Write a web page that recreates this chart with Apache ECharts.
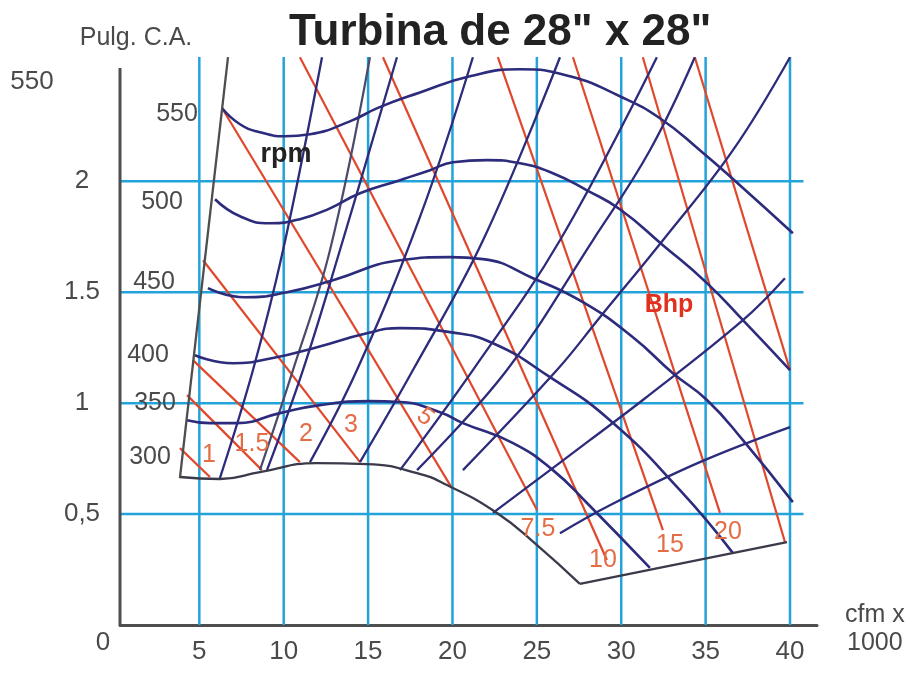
<!DOCTYPE html>
<html><head><meta charset="utf-8">
<script src="https://cdn.jsdelivr.net/npm/echarts@6/dist/echarts.min.js"></script>
<style>html,body{margin:0;padding:0;background:#fff}#c{width:914px;height:674px}</style>
</head><body><div id="c"></div>
<script>
// ---- axes ----
const xTicks = [5, 10, 15, 20, 25, 30, 35, 40];
const yTicks = [0.5, 1, 1.5, 2];
const yTickLabels = ['0,5', '1', '1.5', '2'];

// ---- rpm curves: [cfm x 1000, Pulg. C.A.] ----
const rpm550 = [[6.34,2.33],[7.41,2.257],[8.59,2.221],[10.07,2.203],[11.56,2.212],[13.92,2.27],[15.65,2.333],[18.07,2.40],[21.03,2.473],[23.99,2.505],[26.96,2.473],[29.92,2.383],[32.29,2.284],[34.66,2.14],[37.03,1.982],[40.17,1.766]];
const rpm500 = [[5.93,1.919],[7.41,1.842],[9.19,1.811],[10.96,1.829],[12.74,1.878],[14.52,1.946],[16.89,2.005],[18.67,2.05],[20.03,2.086],[22.04,2.095],[24.0,2.081],[25.95,2.036],[27.97,1.959],[29.92,1.874],[32.47,1.712],[35.08,1.541],[37.21,1.374],[40.0,1.149]];
const rpm450 = [[5.51,1.518],[7.70,1.477],[10.19,1.50],[12.92,1.554],[16.89,1.644],[19.85,1.658],[21.81,1.649],[24.77,1.563],[27.73,1.455],[30.69,1.297],[33.06,1.135],[35.08,1.014],[37.21,0.833],[40.17,0.554]];
const rpm400 = [[4.74,1.216],[6.99,1.18],[9.36,1.203],[11.97,1.252],[14.93,1.315],[16.89,1.338],[19.85,1.32],[22.40,1.27],[25.78,1.117],[29.33,0.923],[33.48,0.608],[36.62,0.324]];
const rpm350 = [[4.27,0.923],[5.63,0.91],[7.23,0.91],[9.78,0.955],[12.15,0.991],[15.11,1.009],[16.89,1.005],[19.26,0.959],[20.62,0.91],[23.59,0.82],[25.95,0.698],[27.97,0.55],[31.70,0.257]];
const rpm300 = [[3.85,0.667],[6.22,0.658],[8.59,0.689],[11.97,0.73],[14.93,0.725],[17.90,0.685],[19.67,0.631],[22.64,0.505],[25.01,0.36],[27.55,0.185]];
const bottomEdge = [[27.55,0.185],[39.82,0.374]];
const surgeLine = [[3.85,0.662],[6.70,2.559]];

// ---- rising lines ----
const rise1 = [[6.22,0.662],[8.18,1.149],[9.96,1.689],[12.27,2.559]];
const rise2 = [[8.59,0.698],[10.55,1.149],[12.74,1.689],[15.11,2.559]];
const rise3 = [[9.01,0.698],[11.14,1.149],[13.33,1.689],[16.71,2.559]];
const rise4 = [[11.56,0.734],[14.34,1.149],[18.07,1.838],[21.21,2.559]];
const rise5 = [[14.52,0.734],[17.66,1.149],[21.81,1.734],[26.37,2.559]];
const rise6 = [[16.89,0.698],[21.21,1.149],[26.37,1.734],[32.11,2.559]];
const rise7 = [[17.90,0.698],[23.23,1.149],[28.32,1.734],[31.70,2.14],[34.36,2.559]];
const rise8 = [[20.62,0.698],[26.19,1.149],[28.74,1.387],[32.47,1.734],[36.62,2.14],[40.0,2.559]];
const rise9 = [[22.40,0.505],[28.14,0.833],[31.28,1.014],[37.21,1.374],[39.70,1.563]];
const rise10 = [[26.37,0.414],[29.33,0.54],[34.66,0.734],[40.0,0.892]];

// ---- Bhp lines ----
const bhp1 = [[3.85,0.797],[5.63,0.667]];
const bhp1_5 = [[4.27,1.036],[8.71,0.698]];
const bhp2 = [[4.62,1.194],[10.96,0.734]];
const bhp3 = [[5.22,1.644],[14.52,0.734]];
const bhp5 = [[6.34,2.33],[19.97,0.617]];
const bhp7_5 = [[10.96,2.559],[25.01,0.518]];
const bhp10 = [[15.88,2.559],[29.15,0.293]];
const bhp15 = [[22.69,2.559],[32.47,0.428]];
const bhp20 = [[27.14,2.559],[35.85,0.505]];
const bhp25 = [[31.28,2.559],[39.70,0.374]];
const bhp30 = [[34.36,2.559],[40.0,1.149]];

const X_MIN = 0.3, X_MAX = 41.6, Y_MAX = 2.56, GRID_X_END = 40.8, V_TOP = 2.56, AXIS_TOP = 2.51;
const F = '"Liberation Sans", Arial, Helvetica, sans-serif';
const NAVY = '#2d2b7b', RED = '#e0482c', BLUE = '#23a3d9', GRAY = '#4e4e4e', TXT = '#4a4a4a', ORANGE = '#e36d45';

const series = [];
function line(data, color, width, smooth, z) {
  series.push({type:'line', data, smooth, symbol:'none', silent:true, z,
    lineStyle:{color, width}, emphasis:{disabled:true}, clip:false});
}
xTicks.forEach(v => line([[v,0],[v,V_TOP]], BLUE, 2.5, false, 1));
yTicks.forEach(v => line([[X_MIN,v],[GRID_X_END,v]], BLUE, 2.5, false, 1));
line([[X_MIN,0],[X_MIN,AXIS_TOP]], GRAY, 3, false, 1);
[bhp1,bhp1_5,bhp2,bhp3,bhp5,bhp7_5,bhp10,bhp15,bhp20,bhp25,bhp30].forEach(d => line(d, RED, 2.2, false, 2));
[rise1,rise3,rise4,rise5,rise6,rise7,rise8,rise9,rise10].forEach(d => line(d, NAVY, 2.3, 0.4, 3));
line(rise2, '#4a4a6a', 2.2, 0.4, 3);
[rpm550,rpm500,rpm450,rpm400,rpm350].forEach(d => line(d, NAVY, 2.6, true, 4));
line(rpm300, '#3a3a4a', 2.3, true, 4);
line(bottomEdge, '#3a3a4a', 2.3, false, 4);
line(surgeLine, GRAY, 2.3, false, 4);

function txt(text, x, y, size, color, weight, extra) {
  return Object.assign({type:'text', x, y, z:100,
    style:{text, fontSize:size, fontFamily:F, fontWeight:weight||'normal', fill:color, align:'center', verticalAlign:'middle'}}, extra||{});
}
const graphic = [
  txt('Pulg. C.A.', 136, 38, 25, TXT),
  txt('550', 32, 82, 26, TXT),
  txt('0', 103, 643, 26, TXT),
  txt('cfm x', 845, 615, 25, TXT, 'normal', {style:{text:'cfm x', fontSize:25, fontFamily:F, fill:TXT, align:'left', verticalAlign:'middle'}}),
  txt('1000', 847, 643, 25, TXT, 'normal', {style:{text:'1000', fontSize:25, fontFamily:F, fill:TXT, align:'left', verticalAlign:'middle'}}),
  txt('550', 177, 114, 25, TXT),
  txt('500', 162, 202, 25, TXT),
  txt('450', 154, 282, 25, TXT),
  txt('400', 148, 355, 25, TXT),
  txt('350', 155, 403, 25, TXT),
  txt('300', 150, 457, 25, TXT),
  txt('rpm', 286, 155, 27, '#222', 'bold'),
  txt('1', 209, 455, 25, ORANGE),
  txt('1.5', 252, 444, 25, ORANGE),
  txt('2', 306, 434, 25, ORANGE),
  txt('3', 351, 425, 25, ORANGE),
  txt('5', 425, 417, 25, ORANGE, 'normal', {rotation:-0.7}),
  txt('7.5', 538, 529, 25, ORANGE),
  txt('10', 603, 560, 25, ORANGE),
  txt('15', 670, 545, 25, ORANGE),
  txt('20', 728, 532, 25, ORANGE),
  txt('Bhp', 669, 305, 25, '#e0301e', 'bold')
];

const chart = echarts.init(document.getElementById('c'), null, {renderer:'canvas'});
chart.setOption({
  animation:false,
  backgroundColor:'#fff',
  title:{text:'Turbina de 28" x 28"', left:284, top:6,
    textStyle:{fontSize:44, fontWeight:'bold', fontFamily:F, color:'#222'}},
  grid:{left:120, right:97, top:57, bottom:49, containLabel:false},
  xAxis:{type:'value', min:X_MIN, max:X_MAX,
    axisLine:{show:true, onZero:false, lineStyle:{color:GRAY, width:3}},
    axisTick:{show:false}, splitLine:{show:false},
    axisLabel:{customValues:xTicks, fontSize:26, fontFamily:F, color:TXT, margin:14}},
  yAxis:{type:'value', min:0, max:Y_MAX,
    axisLine:{show:false}, axisTick:{show:false}, splitLine:{show:false},
    axisLabel:{customValues:yTicks, formatter:(v)=>yTickLabels[yTicks.indexOf(v)] ?? '',
      fontSize:26, fontFamily:F, color:TXT, margin:38, align:'center'}},
  series,
  graphic
});
</script></body></html>
